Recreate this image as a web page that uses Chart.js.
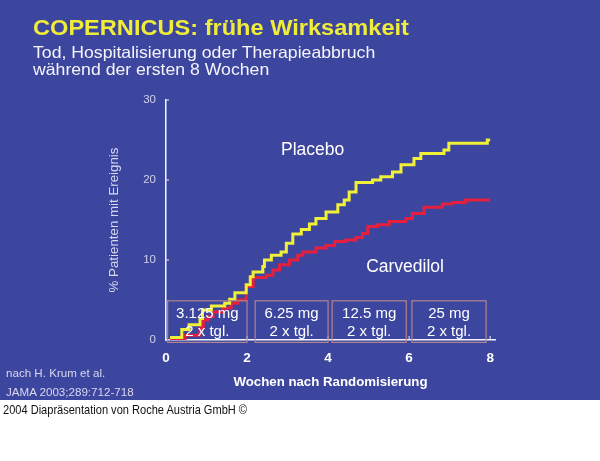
<!DOCTYPE html>
<html>
<head>
<meta charset="utf-8">
<script src="https://cdn.jsdelivr.net/npm/chart.js"></script>
<style>
  body { margin: 0; background: #fff; font-family: "Liberation Sans", Arial, sans-serif; }
  #slide { position: relative; width: 600px; height: 400px; background: #3d469f; overflow: hidden; }
  #slide canvas { position: absolute; left: 0; top: 0; }
  .txt { position: absolute; white-space: nowrap; transform-origin: 0 0; }
  #title { left: 33px; top: 17.8px; font-size: 21.5px; line-height: 21.5px; font-weight: bold; color: #f0ec3a; transform: scaleX(1.097); }
  #subtitle { left: 33px; top: 44.3px; font-size: 16.5px; line-height: 17px; color: #f4f4fa; transform: scaleX(1.07); }
  #source { left: 6px; top: 363.2px; font-size: 11.6px; line-height: 19px; color: #d8d8ee; }
  #copyright { position: absolute; left: 3px; top: 403px; font-size: 13px; line-height: 13px; color: #111; white-space: nowrap; transform-origin: 0 0; transform: scaleX(0.85); }
</style>
</head>
<body>
<div id="slide">
  <canvas id="chart" width="600" height="400"></canvas>
  <div class="txt" id="title">COPERNICUS: frühe Wirksamkeit</div>
  <div class="txt" id="subtitle">Tod, Hospitalisierung oder Therapieabbruch<br>während der ersten 8 Wochen</div>
  <div class="txt" id="source">nach H. Krum et al.<br>JAMA 2003;289:712-718</div>
</div>
<div id="copyright">2004 Diapräsentation von Roche Austria GmbH ©</div>

<script>
  // Kaplan-Meier steps: week of the step, % with event after it
  const placeboWeeks  = [0.1, 0.39, 0.57, 0.84, 0.9, 1.12, 1.45, 1.57, 1.7, 1.98, 2.08, 2.15, 2.39, 2.43, 2.6, 2.84, 2.97, 3.13, 3.34, 3.54, 3.7, 3.95, 4.24, 4.4, 4.52, 4.69, 5.1, 5.3, 5.59, 5.8, 6.12, 6.29, 6.86, 6.98, 7.93, 8.0];
  const placeboValues = [0.3, 1.3, 1.9, 2.7, 3.75, 4.25, 4.6, 5.1, 5.9, 6.9, 7.9, 8.5, 9.2, 10.0, 10.6, 11.0, 12.1, 13.25, 13.8, 14.5, 15.2, 16.0, 16.9, 17.5, 18.5, 19.7, 20.0, 20.4, 21.0, 21.9, 22.7, 23.3, 23.75, 24.6, 25.0, 25.0];

  const carvedilolWeeks  = [0.1, 0.39, 0.47, 0.84, 0.92, 1.04, 1.16, 1.41, 1.61, 1.78, 1.98, 2.15, 2.48, 2.64, 2.8, 3.05, 3.25, 3.38, 3.7, 3.95, 4.16, 4.44, 4.69, 4.85, 4.98, 5.22, 5.51, 5.92, 6.08, 6.37, 6.82, 7.07, 7.39, 8.0];
  const carvedilolValues = [0.1, 0.2, 0.6, 1.5, 2.5, 2.9, 3.5, 4.0, 4.6, 5.0, 6.7, 7.8, 8.1, 8.75, 9.4, 10.0, 10.6, 11.0, 11.5, 11.8, 12.3, 12.5, 12.8, 13.3, 14.2, 14.4, 14.8, 15.2, 15.8, 16.6, 17.0, 17.2, 17.5, 17.5];

  // titration phases
  const doseLabels = ['3.125 mg', '6.25 mg', '12.5 mg', '25 mg'];
  const doseFreq   = ['2 x tgl.', '2 x tgl.', '2 x tgl.', '2 x tgl.'];
  const doseStart  = [0.04, 2.2, 4.1, 6.07];
  const doseEnd    = [2.0, 4.0, 5.93, 7.9];

  const xTicks = [0, 2, 4, 6, 8];
  const seriesNames = ['Placebo', 'Carvedilol'];

  Chart.defaults.font.family = '"Liberation Sans", Arial, sans-serif';

  const toPoints = (xs, ys) => xs.map((w, i) => ({ x: w, y: ys[i] }));

  const slideMarks = {
    id: 'slideMarks',
    afterDatasetsDraw(chart) {
      const { ctx, scales: { x, y } } = chart;
      ctx.save();

      // inward tick marks
      ctx.strokeStyle = '#e8e8f4';
      ctx.lineWidth = 1;
      xTicks.slice(1).forEach(v => {
        const px = x.getPixelForValue(v);
        ctx.beginPath();
        ctx.moveTo(px, y.bottom);
        ctx.lineTo(px, y.bottom - 4);
        ctx.stroke();
      });
      y.ticks.slice(1).forEach(t => {
        const py = y.getPixelForValue(t.value);
        ctx.beginPath();
        ctx.moveTo(x.left, py);
        ctx.lineTo(x.left + 3, py);
        ctx.stroke();
      });

      // dose boxes
      const top = y.getPixelForValue(4.9);
      const bottom = y.getPixelForValue(-0.3);
      ctx.textAlign = 'center';
      ctx.textBaseline = 'middle';
      ctx.font = '15px "Liberation Sans", Arial, sans-serif';
      doseLabels.forEach((label, i) => {
        const left = x.getPixelForValue(doseStart[i]);
        const right = x.getPixelForValue(doseEnd[i]);
        ctx.strokeStyle = '#b08490';
        ctx.lineWidth = 1.2;
        ctx.strokeRect(left, top, right - left, bottom - top);
        ctx.fillStyle = '#ffffff';
        const cx = (left + right) / 2;
        ctx.fillText(label, cx, top + 13.5);
        ctx.fillText(doseFreq[i], cx, top + 31);
      });

      // series labels
      ctx.font = '17.5px "Liberation Sans", Arial, sans-serif';
      ctx.fillStyle = '#ffffff';
      ctx.fillText(seriesNames[0], x.getPixelForValue(3.62), y.getPixelForValue(23.7));
      ctx.fillText(seriesNames[1], x.getPixelForValue(5.9), y.getPixelForValue(9.1));
      ctx.restore();
    }
  };

  new Chart(document.getElementById('chart'), {
    type: 'line',
    data: {
      datasets: [{
        label: seriesNames[0],
        data: toPoints(placeboWeeks, placeboValues),
        borderColor: '#f0f038',
        borderWidth: 3,
        stepped: true,
        pointRadius: 0,
        fill: false
      }, {
        label: seriesNames[1],
        data: toPoints(carvedilolWeeks, carvedilolValues),
        borderColor: '#e4203e',
        borderWidth: 3,
        stepped: true,
        pointRadius: 0,
        fill: false
      }]
    },
    options: {
      responsive: false,
      animation: false,
      layout: { padding: { left: 100, top: 100, right: 105, bottom: 0 } },
      plugins: {
        legend: { display: false },
        tooltip: { enabled: false }
      },
      scales: {
        x: {
          type: 'linear',
          min: 0,
          max: 8.12,
          afterFit: s => { s.height = 60; },
          afterBuildTicks: s => { s.ticks = xTicks.map(v => ({ value: v })); },
          grid: { display: false, drawTicks: false },
          border: { display: true, color: '#f4f4fa', width: 1.5 },
          ticks: {
            padding: 10,
            color: '#ffffff',
            font: { size: 13.5, weight: 'bold' },
            maxRotation: 0
          },
          title: {
            display: true,
            text: 'Wochen nach Randomisierung',
            color: '#ffffff',
            font: { size: 13.25, weight: 'bold' },
            padding: { top: 0, bottom: 10 }
          }
        },
        y: {
          min: 0,
          max: 30,
          afterFit: s => { s.width = 66; },
          grid: { display: false, drawTicks: false },
          border: { display: true, color: '#f4f4fa', width: 1.5 },
          ticks: {
            stepSize: 10,
            padding: 10,
            color: '#d0d0ea',
            font: { size: 11.5 }
          },
          title: {
            display: true,
            text: '% Patienten mit Ereignis',
            color: '#d8d8f0',
            font: { size: 13.3 },
            padding: { top: 6, bottom: 0 }
          }
        }
      }
    },
    plugins: [slideMarks]
  });
</script>
</body>
</html>
